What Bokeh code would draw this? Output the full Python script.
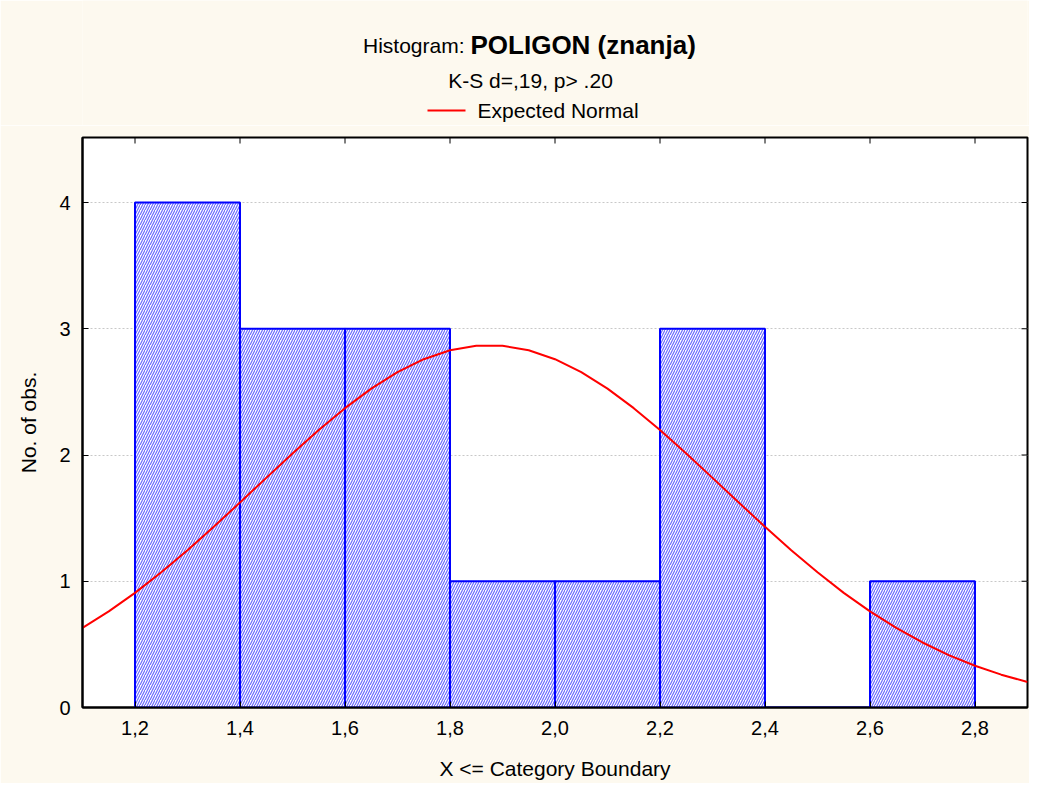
from bokeh.plotting import figure
from bokeh.models import FixedTicker, Range1d, Label
from bokeh.layouts import column
from bokeh.embed import file_html
from bokeh.resources import INLINE

# ---- data ----
bin_edges = [1.2, 1.4, 1.6, 1.8, 2.0, 2.2, 2.4, 2.6, 2.8]
counts = [4, 3, 3, 1, 1, 3, 0, 1]

normal_x = [1.10, 1.15, 1.20, 1.25, 1.30, 1.35, 1.40, 1.45, 1.50, 1.55,
            1.60, 1.65, 1.70, 1.75, 1.80, 1.85, 1.90, 1.95, 2.00, 2.05,
            2.10, 2.15, 2.20, 2.25, 2.30, 2.35, 2.40, 2.45, 2.50, 2.55,
            2.60, 2.65, 2.70, 2.75, 2.80, 2.85, 2.90]
normal_y = [0.630, 0.761, 0.908, 1.071, 1.246, 1.431, 1.624, 1.819, 2.012, 2.198,
            2.371, 2.526, 2.656, 2.759, 2.830, 2.865, 2.865, 2.830, 2.759, 2.656,
            2.526, 2.371, 2.198, 2.012, 1.819, 1.624, 1.431, 1.246, 1.071, 0.908,
            0.761, 0.630, 0.515, 0.415, 0.331, 0.260, 0.202]

x_ticks = [1.2, 1.4, 1.6, 1.8, 2.0, 2.2, 2.4, 2.6, 2.8]
x_tick_labels = ["1,2", "1,4", "1,6", "1,8", "2,0", "2,2", "2,4", "2,6", "2,8"]
y_ticks = [0, 1, 2, 3, 4]

title_regular = "Histogram:"
title_bold = "POLIGON (znanja)"
subtitle = "K-S d=,19, p> .20"
legend_text = "Expected Normal"
x_label = "X <= Category Boundary"
y_label = "No. of obs."

FONT = "Liberation Sans"
CREAM = "#fdf9ef"

X0, X1 = 1.1, 2.9
Y0, Y1 = 0.0, 4.515

TOTAL_W, TOTAL_H = 1029, 783
HEAD_H = 125
BORDER_L, BORDER_R = 82, 2

# ---- header: titles and legend, in a pixel-like coordinate space ----
head = figure(width=TOTAL_W, height=HEAD_H, output_backend="svg", toolbar_location=None,
              x_range=Range1d(BORDER_L, TOTAL_W - BORDER_R), y_range=Range1d(HEAD_H, 0),
              x_axis_type=None, y_axis_type=None,
              min_border_left=BORDER_L, min_border_right=BORDER_R,
              min_border_top=0, min_border_bottom=0)
head.background_fill_color = CREAM
head.border_fill_color = CREAM
head.outline_line_color = None
head.xgrid.visible = False
head.ygrid.visible = False

head.add_layout(Label(x=464, y=45, text=title_regular, text_align="right",
                      text_baseline="middle", text_font=FONT, text_font_size="21px",
                      text_color="black"))
head.add_layout(Label(x=470, y=44, text=title_bold, text_align="left",
                      text_baseline="middle", text_font=FONT, text_font_size="26px",
                      text_font_style="bold", text_color="black"))
head.add_layout(Label(x=530, y=80, text=subtitle, text_align="center",
                      text_baseline="middle", text_font=FONT, text_font_size="21px",
                      text_color="black"))
# legend swatch + label
head.line(x=[427, 465], y=[110, 110], line_color="#ff0000", line_width=2)
head.add_layout(Label(x=477, y=110, text=legend_text, text_align="left",
                      text_baseline="middle", text_font=FONT, text_font_size="21px",
                      text_color="black"))

# ---- main histogram ----
p = figure(width=TOTAL_W, height=TOTAL_H - HEAD_H, output_backend="svg",
           toolbar_location=None,
           x_range=Range1d(X0, X1), y_range=Range1d(Y0, Y1),
           min_border_left=BORDER_L, min_border_right=BORDER_R,
           min_border_top=137 - HEAD_H, min_border_bottom=76)
p.border_fill_color = CREAM
p.background_fill_color = "white"
p.outline_line_color = "black"
p.outline_line_width = 2

p.quad(left=bin_edges[:-1], right=bin_edges[1:], bottom=[0] * len(counts), top=counts,
       fill_color="white", line_color="#0000ff", line_width=2,
       hatch_pattern="/", hatch_color="#6a6aff", hatch_scale=5, hatch_weight=1.2)

curve = p.line(normal_x, normal_y, line_color="#ff0000", line_width=2)

p.xaxis.ticker = FixedTicker(ticks=x_ticks)
p.xaxis.major_label_overrides = {t: l for t, l in zip(x_ticks, x_tick_labels)}
p.yaxis.ticker = FixedTicker(ticks=y_ticks)
for ax in (p.xaxis[0], p.yaxis[0]):
    ax.major_tick_in = 6
    ax.major_tick_out = 0
    ax.minor_tick_line_color = None
    ax.axis_line_width = 2
    ax.axis_line_color = "black"
    ax.major_tick_line_color = "black"
    ax.major_label_text_font = FONT
    ax.major_label_text_font_size = "20px"
    ax.major_label_text_color = "black"
    ax.axis_label_text_font = FONT
    ax.axis_label_text_font_size = "21px"
    ax.axis_label_text_font_style = "normal"
    ax.axis_label_text_color = "black"
p.xaxis.axis_label = x_label
p.yaxis.axis_label = y_label
p.xaxis.major_label_standoff = 13
p.xaxis.axis_label_standoff = 19
p.yaxis.major_label_standoff = 12
p.yaxis.axis_label_standoff = 16

# mirror ticks on the top and right frame edges
tick_len_y = 6 * (Y1 - Y0) / 570
tick_len_x = 6 * (X1 - X0) / 945
p.segment(x0=x_ticks, y0=[Y1] * len(x_ticks), x1=x_ticks,
          y1=[Y1 - tick_len_y] * len(x_ticks), line_color="black", line_width=1)
p.segment(x0=[X1] * len(y_ticks), y0=y_ticks, x1=[X1 - tick_len_x] * len(y_ticks),
          y1=y_ticks, line_color="black", line_width=1)

p.xgrid.grid_line_color = None
p.ygrid.grid_line_color = "#c8c8c8"
p.ygrid.grid_line_dash = "2 2"
p.ygrid.ticker = FixedTicker(ticks=y_ticks)

layout = column(head, p, spacing=0)
open("out.html", "w").write(file_html(layout, INLINE))
